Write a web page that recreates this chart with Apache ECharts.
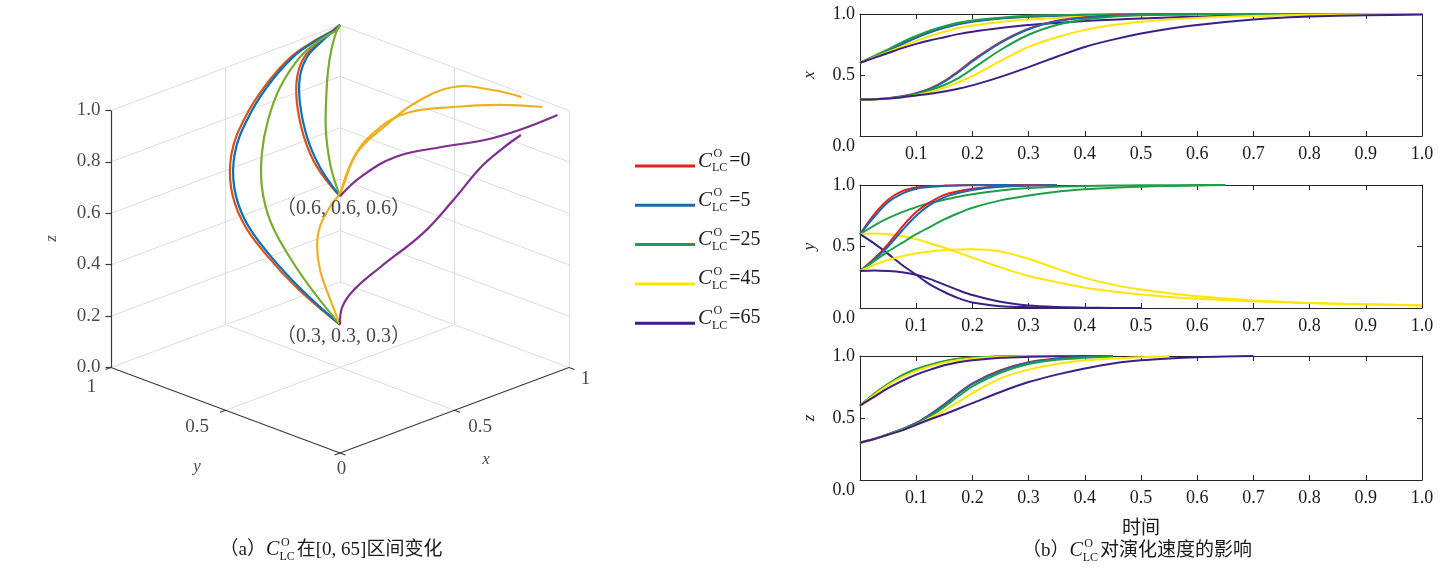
<!DOCTYPE html>
<html>
<head>
<meta charset="utf-8">
<title>C_LC^O 演化</title>
<script src="https://cdn.jsdelivr.net/npm/echarts@6/dist/echarts.min.js"></script>
<style>
    html, body { margin: 0; padding: 0; background: #fff; }
    #chart { width: 1455px; height: 575px; }
</style>
</head>
<body>
<div id="chart"></div>
<script>
// ---- data ----
const cValues = [0, 5, 25, 45, 65];
const legendNames = cValues.map(c => 'C=' + c);
const colors2d = ['#e3201b', '#1f66b1', '#1f9e48', '#ffe600', '#3b1f86'];
const colors3d = ['#d95319', '#0072bd', '#77ac30', '#edb120', '#7e2f8e'];

const timeGrid = [0, 0.025, 0.05, 0.075, 0.1, 0.125, 0.15, 0.175, 0.2, 0.25, 0.3, 0.35,
    0.4, 0.45, 0.5, 0.55, 0.6, 0.65, 0.7, 0.75, 0.8, 0.9, 1.0];
const timeTicks = ['0.1', '0.2', '0.3', '0.4', '0.5', '0.6', '0.7', '0.8', '0.9', '1.0'];

// x(t), start (0.6, 0.6, 0.6) and (0.3, 0.3, 0.3); one row per C value
const xHigh = [
    [0.6, 0.65, 0.70, 0.755, 0.81, 0.855, 0.89, 0.92, 0.94, 0.965, 0.98, 0.987, 0.991, 0.994, 0.996, 0.998, 0.999, 1, 1, 1, 1, 1, 1],
    [0.6, 0.65, 0.70, 0.752, 0.805, 0.85, 0.886, 0.915, 0.937, 0.963, 0.978, 0.986, 0.99, 0.993, 0.996, 0.998, 0.999, 1, 1, 1, 1, 1, 1],
    [0.6, 0.655, 0.71, 0.77, 0.82, 0.865, 0.90, 0.928, 0.947, 0.97, 0.985, 0.99, 0.995, 0.997, 0.999, 1, 1, 1, 1, 1, 1, 1, 1],
    [0.6, 0.645, 0.69, 0.735, 0.78, 0.82, 0.855, 0.885, 0.905, 0.935, 0.955, 0.968, 0.978, 0.984, 0.989, 0.993, 0.996, 0.998, 0.999, 1, 1, 1, 1],
    [0.6, 0.64, 0.68, 0.72, 0.755, 0.785, 0.81, 0.835, 0.855, 0.885, 0.91, 0.927, 0.942, 0.953, 0.963, 0.971, 0.978, 0.984, 0.989, 0.992, 0.995, 0.998, 1]
];
const xLow = [
    [0.3, 0.302, 0.31, 0.325, 0.35, 0.39, 0.45, 0.53, 0.62, 0.77, 0.88, 0.945, 0.973, 0.988, 0.994, 0.997, 0.999, 1, 1, 1, 1, 1, 1],
    [0.3, 0.302, 0.31, 0.324, 0.348, 0.386, 0.445, 0.523, 0.612, 0.763, 0.875, 0.94, 0.97, 0.986, 0.993, 0.997, 0.999, 1, 1, 1, 1, 1, 1],
    [0.3, 0.302, 0.308, 0.32, 0.342, 0.375, 0.418, 0.475, 0.55, 0.705, 0.83, 0.91, 0.955, 0.978, 0.989, 0.995, 0.998, 1, 1, 1, 1, 1, 1],
    [0.3, 0.302, 0.307, 0.316, 0.335, 0.36, 0.395, 0.44, 0.49, 0.615, 0.73, 0.81, 0.87, 0.91, 0.937, 0.955, 0.968, 0.977, 0.984, 0.989, 0.993, 0.997, 0.999],
    [0.3, 0.302, 0.308, 0.318, 0.332, 0.347, 0.365, 0.388, 0.415, 0.485, 0.565, 0.65, 0.73, 0.79, 0.84, 0.88, 0.91, 0.935, 0.955, 0.97, 0.98, 0.99, 0.995]
];

// y(t)
const yHigh = [
    [0.6, 0.76, 0.88, 0.95, 0.98, 0.99, 0.995, 0.998, 1, 1, 1, 1],
    [0.6, 0.74, 0.86, 0.93, 0.97, 0.985, 0.992, 0.996, 0.998, 1, 1, 1],
    [0.6, 0.67, 0.73, 0.78, 0.82, 0.855, 0.88, 0.905, 0.925, 0.955, 0.975, 0.986, 0.992, 0.995, 0.997, 0.998, 0.999, 1],
    [0.6, 0.605, 0.6, 0.585, 0.56, 0.525, 0.49, 0.45, 0.41, 0.33, 0.26, 0.21, 0.165, 0.135, 0.11, 0.09, 0.075, 0.065, 0.055, 0.047, 0.04, 0.03, 0.02],
    [0.6, 0.525, 0.44, 0.35, 0.27, 0.19, 0.13, 0.08, 0.045, 0.015, 0.006, 0.002, 0.001, 0, 0]
];
const yLow = [
    [0.3, 0.40, 0.52, 0.66, 0.78, 0.86, 0.92, 0.95, 0.97, 0.99, 0.998, 1],
    [0.3, 0.39, 0.50, 0.63, 0.75, 0.84, 0.90, 0.935, 0.96, 0.985, 0.995, 1],
    [0.3, 0.38, 0.46, 0.53, 0.60, 0.66, 0.72, 0.77, 0.815, 0.875, 0.915, 0.945, 0.965, 0.978, 0.986, 0.992, 0.996, 1],
    [0.3, 0.35, 0.39, 0.42, 0.445, 0.46, 0.47, 0.476, 0.478, 0.46, 0.40, 0.32, 0.245, 0.19, 0.15, 0.12, 0.095, 0.078, 0.062, 0.05, 0.04, 0.03, 0.02],
    [0.3, 0.305, 0.3, 0.29, 0.27, 0.235, 0.19, 0.145, 0.105, 0.05, 0.02, 0.008, 0.003, 0.001, 0]
];

// z(t)
const zHigh = [
    [0.6, 0.69, 0.77, 0.84, 0.89, 0.925, 0.955, 0.975, 0.985, 0.995, 0.999, 1, 1, 1],
    [0.6, 0.69, 0.77, 0.838, 0.888, 0.924, 0.953, 0.973, 0.984, 0.994, 0.999, 1, 1, 1],
    [0.6, 0.695, 0.775, 0.845, 0.895, 0.93, 0.958, 0.977, 0.987, 0.996, 1, 1, 1, 1],
    [0.6, 0.685, 0.765, 0.83, 0.88, 0.918, 0.948, 0.968, 0.98, 0.993, 0.998, 1, 1, 1],
    [0.6, 0.67, 0.74, 0.80, 0.85, 0.89, 0.925, 0.95, 0.965, 0.985, 0.993, 0.997, 1, 1]
];
const zLow = [
    [0.3, 0.33, 0.37, 0.41, 0.46, 0.53, 0.61, 0.70, 0.78, 0.885, 0.95, 0.98, 0.993, 1],
    [0.3, 0.33, 0.37, 0.41, 0.458, 0.528, 0.607, 0.695, 0.775, 0.88, 0.947, 0.978, 0.992, 1],
    [0.3, 0.33, 0.368, 0.405, 0.45, 0.515, 0.59, 0.675, 0.755, 0.865, 0.935, 0.97, 0.985, 0.995],
    [0.3, 0.33, 0.365, 0.40, 0.445, 0.50, 0.56, 0.63, 0.70, 0.82, 0.89, 0.935, 0.965, 0.98, 0.99, 0.997],
    [0.3, 0.33, 0.365, 0.40, 0.445, 0.49, 0.53, 0.575, 0.62, 0.71, 0.79, 0.85, 0.90, 0.94, 0.965, 0.98, 0.99, 0.995, 1]
];

// 3D trajectories [x, y, z] for panel (a)
const path3dHigh = [
    [[0.6, 0.6, 0.6], [0.69, 0.79, 0.62], [0.747, 0.904, 0.68], [0.75, 0.938, 0.8], [0.768, 0.955, 0.89], [0.81, 0.966, 0.95], [0.87, 0.965, 0.985], [0.956, 0.985, 1], [1, 1, 1]],
    [[0.6, 0.6, 0.6], [0.697, 0.785, 0.62], [0.754, 0.898, 0.68], [0.757, 0.932, 0.8], [0.774, 0.949, 0.89], [0.816, 0.96, 0.95], [0.874, 0.961, 0.985], [0.958, 0.983, 1], [1, 1, 1]],
    [[0.6, 0.6, 0.6], [0.676, 0.716, 0.65], [0.789, 0.85, 0.7], [0.814, 0.875, 0.8], [0.861, 0.913, 0.9], [0.899, 0.934, 0.97], [0.965, 0.978, 1], [1, 1, 1]],
    [[0.6, 0.6, 0.6], [0.634, 0.573, 0.75], [0.677, 0.516, 0.86], [0.737, 0.444, 0.93], [0.813, 0.318, 0.97], [0.896, 0.199, 0.99], [0.962, 0.079, 1]],
    [[0.6, 0.6, 0.6], [0.683, 0.592, 0.65], [0.77, 0.528, 0.72], [0.839, 0.395, 0.78], [0.899, 0.267, 0.83], [0.928, 0.145, 0.9], [0.994, 0.044, 0.97]]
];
const path3dLow = [
    [[0.3, 0.3, 0.3], [0.368, 0.546, 0.33], [0.449, 0.777, 0.37], [0.487, 0.916, 0.44], [0.491, 0.967, 0.55], [0.511, 0.984, 0.67], [0.565, 0.985, 0.78], [0.652, 0.983, 0.88], [0.765, 0.98, 0.96], [0.874, 0.98, 0.99], [0.958, 0.984, 1], [1, 1, 1]],
    [[0.3, 0.3, 0.3], [0.374, 0.54, 0.33], [0.456, 0.77, 0.37], [0.494, 0.909, 0.44], [0.498, 0.96, 0.55], [0.518, 0.977, 0.67], [0.572, 0.978, 0.78], [0.658, 0.977, 0.88], [0.77, 0.975, 0.96], [0.877, 0.977, 0.99], [0.96, 0.982, 1], [1, 1, 1]],
    [[0.3, 0.3, 0.3], [0.394, 0.525, 0.34], [0.453, 0.684, 0.4], [0.488, 0.794, 0.48], [0.528, 0.869, 0.57], [0.562, 0.903, 0.68], [0.618, 0.932, 0.78], [0.687, 0.948, 0.88], [0.786, 0.96, 0.96], [0.884, 0.971, 0.99], [0.965, 0.978, 1], [1, 1, 1]],
    [[0.3, 0.3, 0.3], [0.348, 0.395, 0.36], [0.365, 0.452, 0.44], [0.373, 0.473, 0.52], [0.406, 0.494, 0.58], [0.44, 0.484, 0.65], [0.468, 0.468, 0.7], [0.589, 0.515, 0.8], [0.71, 0.518, 0.86], [0.813, 0.485, 0.93], [0.93, 0.435, 0.97], [0.968, 0.302, 0.99], [0.975, 0.182, 1]],
    [[0.3, 0.3, 0.3], [0.333, 0.323, 0.35], [0.382, 0.322, 0.4], [0.485, 0.308, 0.46], [0.641, 0.278, 0.55], [0.75, 0.255, 0.65], [0.853, 0.237, 0.75], [0.937, 0.225, 0.8], [0.947, 0.157, 0.87]]
];

const zTicks3d = [0, 0.2, 0.4, 0.6, 0.8, 1.0];
const zTickLabels = ['0.0', '0.2', '0.4', '0.6', '0.8', '1.0'];
const xyTicks3d = [0, 0.5, 1];
const xyTickLabels = ['0', '0.5', '1'];
const startPoints = [[0.6, 0.6, 0.6], [0.3, 0.3, 0.3]];

// ---- helpers ----
const serif = '"Liberation Serif", "Times New Roman", "Noto Sans CJK SC", serif';
const textColor = '#1a1a1a';

// oblique view used by panel (a): u = x - y, w = K (x + y) + z
const K = 85.5 / 257;
function project(p) {
    return [p[0] - p[1], K * (p[0] + p[1]) + p[2]];
}

function seg(a, b) {
    return { coords: [project(a), project(b)] };
}

const measureCtx = document.createElement('canvas').getContext('2d');
function measure(text, size, italic) {
    measureCtx.font = (italic ? 'italic ' : '') + size + 'px ' + serif;
    return measureCtx.measureText(text).width;
}

/**
 * Builds "pre C^O_LC post" as graphic texts
 */
function clcLabel(x, y, pre, post, size, centered) {
    const cSize = size + 1;
    const sSize = Math.round(size * 0.62);
    const wPre = pre ? measure(pre, size) : 0;
    const wC = measure('C', cSize, true);
    const wSub = Math.max(measure('O', sSize), measure('LC', sSize));
    const wPost = measure(post, size);
    const total = wPre + wC + wSub + 2 + wPost;
    const x0 = centered ? x - total / 2 : x;
    const parts = [
        [pre, x0, y, size, false],
        ['C', x0 + wPre, y, cSize, true],
        ['O', x0 + wPre + wC + 1.5, y - size * 0.36, sSize, false],
        ['LC', x0 + wPre + wC, y + size * 0.36, sSize, false],
        [post, x0 + wPre + wC + wSub + 2, y, size, false]
    ];
    return parts.filter(q => q[0]).map(q => ({
        type: 'text',
        silent: true,
        x: q[1],
        y: q[2],
        style: {
            text: q[0],
            fontSize: q[3],
            fontFamily: serif,
            fontStyle: q[4] ? 'italic' : 'normal',
            fill: textColor,
            align: 'left',
            verticalAlign: 'middle'
        }
    }));
}

// ---- panel (a): 3D box ----
const gridSegs = [];
zTicks3d.forEach(z => {
    gridSegs.push(seg([0, 1, z], [1, 1, z]));
    gridSegs.push(seg([1, 0, z], [1, 1, z]));
});
gridSegs.push(seg([0.5, 1, 0], [0.5, 1, 1]));
gridSegs.push(seg([1, 1, 0], [1, 1, 1]));
gridSegs.push(seg([1, 0.5, 0], [1, 0.5, 1]));
gridSegs.push(seg([1, 0, 0], [1, 0, 1]));
gridSegs.push(seg([0.5, 0, 0], [0.5, 1, 0]));
gridSegs.push(seg([0, 0.5, 0], [1, 0.5, 0]));

const tl = 0.012;
const axisSegs = [
    seg([0, 1, 0], [0, 1, 1]),
    seg([0, 0, 0], [0, 1, 0]),
    seg([0, 0, 0], [1, 0, 0])
];
zTicks3d.forEach(z => axisSegs.push(seg([0, 1, z], [-tl, 1 + tl, z])));
xyTicks3d.forEach(v => {
    axisSegs.push(seg([v, 0, 0], [v, -2 * tl, 0]));
    axisSegs.push(seg([0, v, 0], [-2 * tl, v, 0]));
});

const labels3d = [];
zTicks3d.forEach((z, i) => labels3d.push({
    value: project([0, 1, z]),
    label: { formatter: zTickLabels[i], position: [-10, 0], align: 'right' }
}));
const yLabelOffsets = [null, [-28, 17], [-19, 20]];
const xLabelOffsets = [[2, 17], [26, 17], [17, 12]];
xyTicks3d.forEach((v, i) => {
    labels3d.push({ value: project([v, 0, 0]), label: { formatter: xyTickLabels[i], position: xLabelOffsets[i] } });
    if (yLabelOffsets[i]) {
        labels3d.push({ value: project([0, v, 0]), label: { formatter: xyTickLabels[i], position: yLabelOffsets[i] } });
    }
});
labels3d.push({ value: project([0, 1, 0.5]), label: { formatter: 'z', position: [-59, 0], rotate: 90, fontStyle: 'italic', fontSize: 17 } });
labels3d.push({ value: project([0, 0.5, 0]), label: { formatter: 'y', position: [-28, 57], fontStyle: 'italic', fontSize: 17 } });
labels3d.push({ value: project([0.5, 0, 0]), label: { formatter: 'x', position: [32, 50], fontStyle: 'italic', fontSize: 17 } });
startPoints.forEach(p => labels3d.push({
    value: project(p),
    label: { formatter: '（' + p.join(', ') + '）', position: [4, 13], fontSize: 20 }
}));

const series = [
    {
        type: 'lines', coordinateSystem: 'cartesian2d', xAxisIndex: 0, yAxisIndex: 0,
        polyline: false, silent: true, clip: false, data: gridSegs,
        lineStyle: { color: '#dcdcdc', width: 1, opacity: 1 }
    },
    {
        type: 'lines', coordinateSystem: 'cartesian2d', xAxisIndex: 0, yAxisIndex: 0,
        polyline: false, silent: true, clip: false, data: axisSegs,
        lineStyle: { color: '#3a3a3a', width: 1.2, opacity: 1 }
    }
];

// trajectories drawn as smooth polylines through the projected points
const curves3d = [];
cValues.forEach((c, i) => {
    curves3d.push({ path: path3dHigh[i], color: colors3d[i] });
    curves3d.push({ path: path3dLow[i], color: colors3d[i] });
});
series.push({
    type: 'custom', name: '3d', coordinateSystem: 'cartesian2d', xAxisIndex: 0, yAxisIndex: 0,
    silent: true, clip: false,
    data: curves3d.map((c, k) => [k, 0]),
    renderItem: (params, api) => {
        const curve = curves3d[api.value(0)];
        return {
            type: 'polyline',
            shape: { points: curve.path.map(p => api.coord(project(p))), smooth: 0.4 },
            style: { stroke: curve.color, lineWidth: 2.2, fill: 'none' }
        };
    }
});

series.push({
    type: 'scatter', xAxisIndex: 0, yAxisIndex: 0, symbolSize: 1, silent: true, clip: false,
    itemStyle: { color: 'rgba(0,0,0,0)' },
    label: { show: true, align: 'center', verticalAlign: 'middle', fontFamily: serif, fontSize: 19, color: textColor },
    data: labels3d, z: 5
});

// ---- panel (b): x, y, z over time ----
const panels = [
    { name: 'x', high: xHigh, low: xLow, top: 14, height: 122 },
    { name: 'y', high: yHigh, low: yLow, top: 185, height: 123 },
    { name: 'z', high: zHigh, low: zLow, top: 356, height: 124 }
];

const grids = [{ left: 111, top: 25, width: 458, height: 428 }];
const xAxes = [{ type: 'value', gridIndex: 0, min: -1, max: 1, show: false }];
const yAxes = [{ type: 'value', gridIndex: 0, min: 0, max: 1 + 2 * K, show: false }];

const frameLine = { show: true, onZero: false, lineStyle: { color: '#262626', width: 1 } };
const frameTick = { show: true, inside: true, length: 5, lineStyle: { color: '#262626', width: 1 } };

panels.forEach((panel, p) => {
    const gi = p + 1;
    grids.push({ left: 860, top: panel.top, width: 562, height: panel.height });
    const last = p === panels.length - 1;
    xAxes.push({
        type: 'value', gridIndex: gi, position: 'bottom', min: 0, max: 1, interval: 0.1,
        axisLine: frameLine, axisTick: frameTick, splitLine: { show: false },
        axisLabel: {
            showMinLabel: false, margin: 9, fontFamily: serif, fontSize: 18, color: textColor,
            formatter: v => timeTicks[Math.round(v * 10) - 1] || ''
        },
        name: last ? '时间' : '', nameLocation: 'middle', nameGap: 40,
        nameTextStyle: { fontFamily: serif, fontSize: 19, color: textColor }
    });
    xAxes.push({
        type: 'value', gridIndex: gi, position: 'top', min: 0, max: 1, interval: 0.1,
        axisLine: frameLine, axisTick: frameTick, axisLabel: { show: false }, splitLine: { show: false }
    });
    yAxes.push({
        type: 'value', gridIndex: gi, position: 'left', min: 0, max: 1, interval: 0.5,
        axisLine: frameLine, axisTick: frameTick, splitLine: { show: false },
        axisLabel: {
            margin: 5, fontFamily: serif, fontSize: 18, color: textColor,
            formatter: v => v === 0 ? '{low|0.0}' : v.toFixed(1),
            rich: { low: { fontFamily: serif, fontSize: 18, color: textColor, padding: [20, 0, 0, 0] } }
        },
        name: panel.name, nameLocation: 'middle', nameGap: 42, nameRotate: 90,
        nameTextStyle: { fontFamily: serif, fontSize: 17, fontStyle: 'italic', color: textColor }
    });
    yAxes.push({
        type: 'value', gridIndex: gi, position: 'right', min: 0, max: 1, interval: 0.5,
        axisLine: frameLine, axisTick: frameTick, axisLabel: { show: false }, splitLine: { show: false }
    });

    [panel.high, panel.low].forEach(group => group.forEach((vals, i) => series.push({
        type: 'line', name: legendNames[i], xAxisIndex: 2 * p + 1, yAxisIndex: 2 * p + 1,
        data: vals.map((v, j) => [timeGrid[j], v]), smooth: 0.3, symbol: 'none',
        silent: true, clip: false,
        lineStyle: { width: 2, color: colors2d[i] }, itemStyle: { color: colors2d[i] }
    })));
});

// ---- texts ----
const graphics = [];
legendNames.forEach((n, i) => {
    graphics.push(...clcLabel(698, 161 + i * 39.3, '', '=' + cValues[i], 20, false));
});
graphics.push(...clcLabel(331, 550, '（a）', '在[0, 65]区间变化', 19, true));
graphics.push(...clcLabel(1137, 551, '（b）', '对演化速度的影响', 19, true));

const chart = echarts.init(document.getElementById('chart'));
chart.setOption({
    backgroundColor: '#fff',
    animation: false,
    grid: grids,
    xAxis: xAxes,
    yAxis: yAxes,
    legend: {
        data: legendNames, orient: 'vertical', left: 630, top: 159.5,
        itemWidth: 60, itemHeight: 3, itemGap: 36.3, icon: 'rect',
        selectedMode: false, formatter: () => ' ',
        textStyle: { fontSize: 3, lineHeight: 3 }
    },
    graphic: graphics,
    series: series
});
</script>
</body>
</html>
